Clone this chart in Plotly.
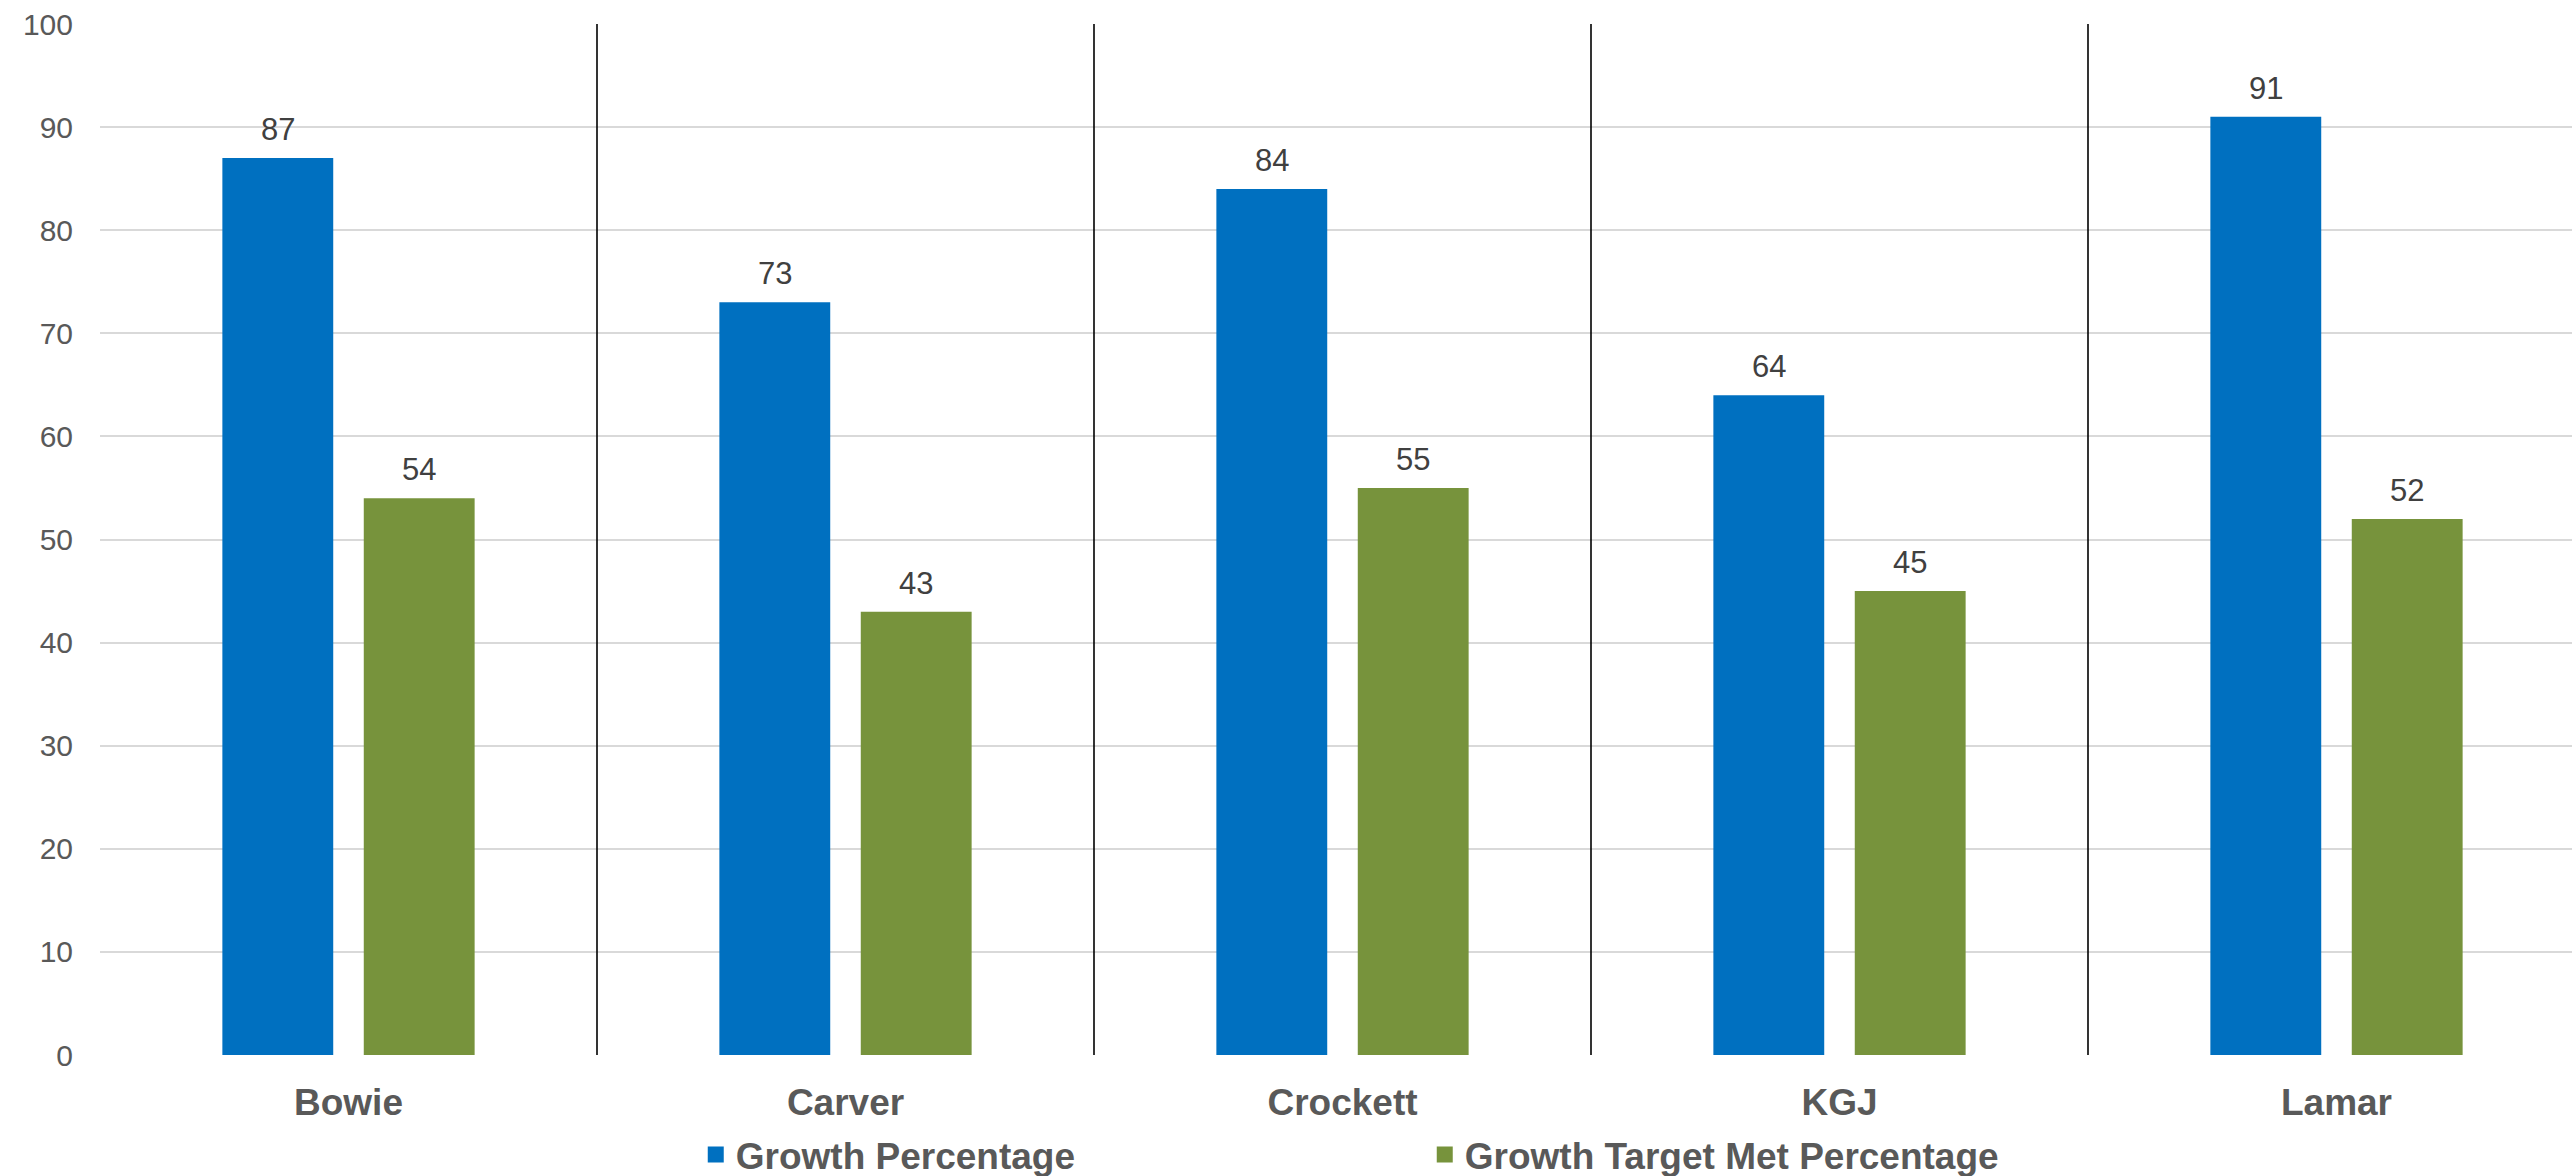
import plotly.graph_objects as go

# School categories and the two measured series
schools = ["Bowie", "Carver", "Crockett", "KGJ", "Lamar"]
growth_pct = [87, 73, 84, 64, 91]
target_met_pct = [54, 43, 55, 45, 52]
y_ticks = [0, 10, 20, 30, 40, 50, 60, 70, 80, 90, 100]

series_names = ["Growth Percentage", "Growth Target Met Percentage"]
colors = ["#0070C0", "#77933C"]

W, H = 2572, 1176
LEFT, TOP, BOTTOM = 100, 24, 121
px_per_cat = 497.0
slot_px = 141.5  # distance between the two bar centres within a group

fig = go.Figure()

for name, vals, col in zip(series_names, [growth_pct, target_met_pct], colors):
    fig.add_trace(go.Bar(
        x=schools, y=vals, name=name,
        marker=dict(color=col, line=dict(width=0)),
        showlegend=False, hoverinfo="x+y",
    ))
    # legend proxy with a larger square key
    fig.add_trace(go.Scatter(
        x=[None], y=[None], mode="markers", name=name,
        marker=dict(symbol="square", size=19, color=col),
        showlegend=True,
    ))

# value labels above each bar
annotations = []
for vals, shift in [(growth_pct, -slot_px / 2), (target_met_pct, slot_px / 2)]:
    for cat, v in zip(schools, vals):
        annotations.append(dict(
            x=cat, y=v, xref="x", yref="y", text=str(v), showarrow=False,
            xanchor="center", yanchor="bottom", xshift=shift, yshift=9,
            font=dict(family="Liberation Sans, Arial", size=31, color="#404040"),
        ))

# vertical separators between school groups
shapes = []
for i in range(len(schools) - 1):
    shapes.append(dict(
        type="line", xref="x", yref="y", x0=i + 0.5, x1=i + 0.5, y0=0, y1=100,
        line=dict(color="#000000", width=1.6), layer="above",
    ))

plot_w = W - LEFT
x_max = -0.5 + plot_w / px_per_cat

fig.update_layout(
    width=W, height=H,
    margin=dict(l=LEFT, r=0, t=TOP, b=BOTTOM, pad=0),
    paper_bgcolor="white", plot_bgcolor="white",
    barmode="group", bargap=0.431, bargroupgap=0.216,
    font=dict(family="Liberation Sans, Arial", color="#595959"),
    annotations=annotations, shapes=shapes,
    legend=dict(
        orientation="h", x=0.241, xanchor="left",
        yref="container", y=0.018, yanchor="middle",
        font=dict(family="Liberation Sans, Arial", size=37, color="#595959", weight="bold"),
        entrywidth=684, entrywidthmode="pixels",
        bgcolor="rgba(0,0,0,0)", borderwidth=0,
    ),
    xaxis=dict(
        range=[-0.5, x_max], showgrid=False, zeroline=False, showline=False,
        ticks="", ticklabelstandoff=22,
        tickfont=dict(family="Liberation Sans, Arial", size=37, color="#595959", weight="bold"),
    ),
    yaxis=dict(
        range=[0, 100], tickvals=y_ticks, showgrid=True, gridcolor="#D9D9D9", gridwidth=2,
        zeroline=False, showline=False, ticks="", ticklabelstandoff=26,
        tickfont=dict(family="Liberation Sans, Arial", size=30, color="#595959"),
    ),
)

fig.write_html("out.html")
